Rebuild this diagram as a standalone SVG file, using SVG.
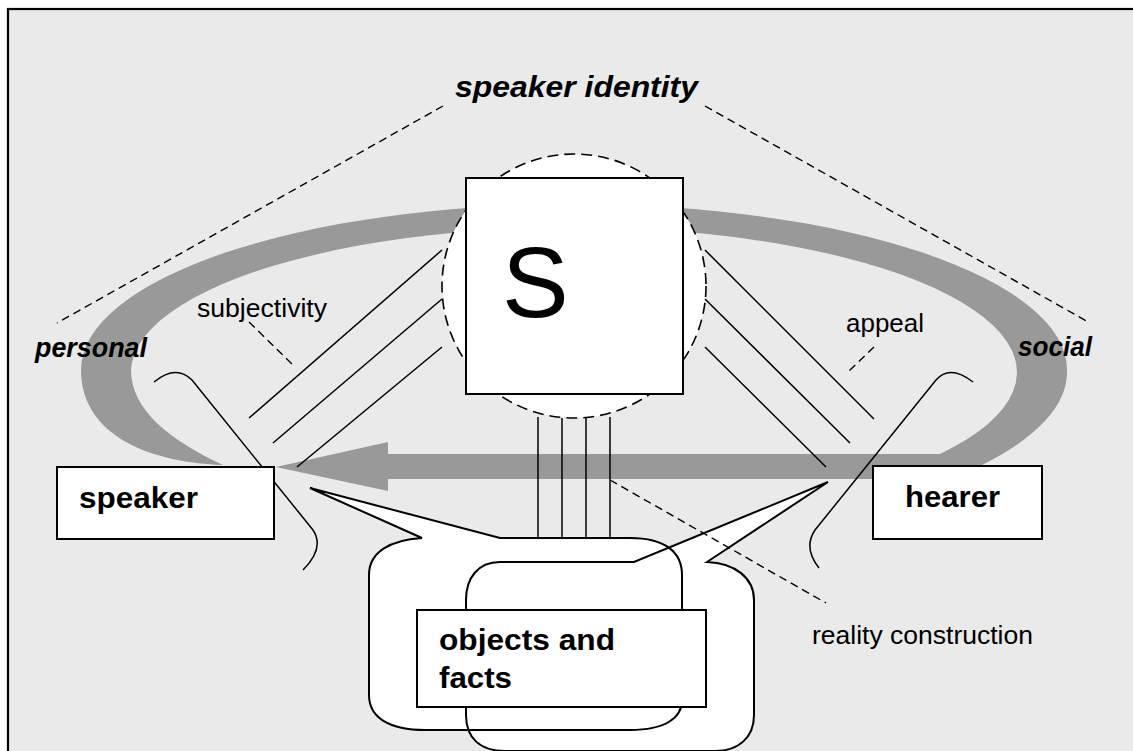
<svg xmlns="http://www.w3.org/2000/svg" width="1133" height="751" viewBox="0 0 1133 751">
<style>
text{font-family:"Liberation Sans",Arial,sans-serif;fill:#000}
.b{font-weight:bold}
.bi{font-weight:bold;font-style:italic}
.ln{stroke:#000;stroke-width:1.5;fill:none}
.dash{stroke:#000;stroke-width:1.4;fill:none;stroke-dasharray:8 5}
.box{fill:#fff;stroke:#000;stroke-width:2}
.bub{fill:none;stroke:#000;stroke-width:2}
</style>
<rect x="0" y="0" width="1133" height="751" fill="#fff"/>
<rect id="frame" x="8" y="9" width="1140" height="760" fill="#eaeaea" stroke="#000" stroke-width="2.2"/>
<g id="cycle">
<path d="M 223 465 C 140 462 81 430 81 370 A 493 166 0 0 1 1067 370 A 493 166 0 0 1 978 467 L 960 479 L 388 479 L 388 491 L 276 467 L 388 442 L 388 454 L 940 454 A 443 145 0 1 0 131 370 C 131 410 170 440 223 465 Z" fill="#999"/>
</g>
<g id="S">
<circle cx="574" cy="286" r="132" fill="#fff" stroke="#000" stroke-width="1.6" stroke-dasharray="11 6"/>
<rect class="box" x="466" y="178" width="217" height="216"/>
<text x="502" y="317" font-size="100">S</text>
</g>
<g id="connectors">
<line class="ln" x1="442" y1="250" x2="249" y2="418"/>
<line class="ln" x1="442" y1="299" x2="273" y2="443"/>
<line class="ln" x1="442" y1="347" x2="297" y2="467"/>
<line class="ln" x1="705" y1="250" x2="874" y2="419"/>
<line class="ln" x1="705" y1="299" x2="850" y2="443"/>
<line class="ln" x1="705" y1="347" x2="826" y2="467"/>
<line class="ln" x1="538" y1="417" x2="538" y2="538"/>
<line class="ln" x1="562" y1="418" x2="562" y2="538"/>
<line class="ln" x1="586" y1="418" x2="586" y2="538"/>
<line class="ln" x1="610" y1="417" x2="610" y2="538"/>
<path class="ln" d="M 154 382 Q 176 364 192 380 L 313 530 Q 325 548 303 570"/>
<path class="ln" d="M 973 382 Q 950 364 936 380 L 815 530 Q 803 548 819 568"/>
</g>
<g id="bubbles">
<path d="M 422 538 C 390 540 369 552 369 575 L 369 695 C 369 718 390 730 425 730 L 630 730 C 665 730 682 718 682 700 L 682 575 C 682 552 665 538 630 538 L 500 538 L 310 488 Z" fill="#fff"/>
<path d="M 500 562 L 634 562 L 828 482 L 707 562 C 735 563 754 578 754 600 L 754 715 C 754 738 738 751 715 751 L 505 751 C 480 751 466 738 466 715 L 466 600 C 466 578 478 562 500 562 Z" fill="#fff"/>
<path class="bub" d="M 422 538 C 390 540 369 552 369 575 L 369 695 C 369 718 390 730 425 730 L 630 730 C 665 730 682 718 682 700 L 682 575 C 682 552 665 538 630 538 L 500 538 L 310 488 Z"/>
<path class="bub" d="M 500 562 L 634 562 L 828 482 L 707 562 C 735 563 754 578 754 600 L 754 715 C 754 738 738 751 715 751 L 505 751 C 480 751 466 738 466 715 L 466 600 C 466 578 478 562 500 562 Z"/>
</g>
<g id="objects">
<rect class="box" x="417" y="610" width="289" height="97"/>
<text class="b" x="439" y="650" font-size="29" textLength="176" lengthAdjust="spacingAndGlyphs">objects and</text>
<text class="b" x="439" y="688" font-size="29" textLength="73" lengthAdjust="spacingAndGlyphs">facts</text>
</g>
<g id="speaker">
<rect class="box" x="57" y="467" width="217" height="72"/>
<text class="b" x="79" y="508" font-size="29" textLength="119" lengthAdjust="spacingAndGlyphs">speaker</text>
</g>
<g id="hearer">
<rect class="box" x="873" y="466" width="169" height="73"/>
<text class="b" x="905" y="507" font-size="29" textLength="95" lengthAdjust="spacingAndGlyphs">hearer</text>
</g>
<g id="leaders">
<line class="dash" x1="443" y1="106" x2="57" y2="323"/>
<line class="dash" x1="705" y1="106" x2="1090" y2="323"/>
<line class="dash" x1="249" y1="322" x2="295" y2="367"/>
<line class="dash" x1="874" y1="347" x2="849" y2="371"/>
<line class="dash" x1="610" y1="480" x2="826" y2="603"/>
</g>
<g id="labels">
<text class="bi" x="455" y="97" font-size="30" textLength="243" lengthAdjust="spacingAndGlyphs">speaker identity</text>
<text class="bi" x="35" y="357" font-size="27" textLength="112" lengthAdjust="spacingAndGlyphs">personal</text>
<text class="bi" x="1018" y="356" font-size="27" textLength="74" lengthAdjust="spacingAndGlyphs">social</text>
<text x="197" y="317" font-size="25" textLength="130" lengthAdjust="spacingAndGlyphs">subjectivity</text>
<text x="846" y="332" font-size="25" textLength="78" lengthAdjust="spacingAndGlyphs">appeal</text>
<text x="812" y="644" font-size="25" textLength="221" lengthAdjust="spacingAndGlyphs">reality construction</text>
</g>
</svg>
